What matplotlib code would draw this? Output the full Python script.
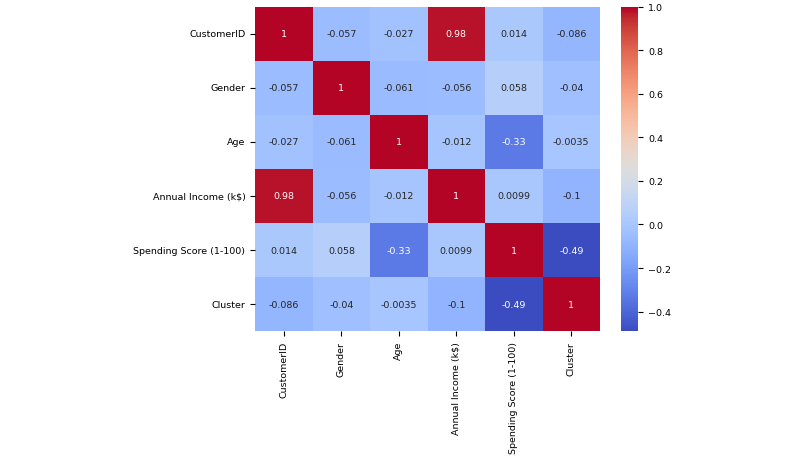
import matplotlib
matplotlib.use("Agg")
import matplotlib.pyplot as plt
import numpy as np
import pandas as pd
import seaborn as sns

labels = ["CustomerID", "Gender", "Age", "Annual Income (k$)",
          "Spending Score (1-100)", "Cluster"]

row_customer = [1, -0.057, -0.027, 0.98, 0.014, -0.086]
row_gender = [-0.057, 1, -0.061, -0.056, 0.058, -0.04]
row_age = [-0.027, -0.061, 1, -0.012, -0.33, -0.0035]
row_income = [0.98, -0.056, -0.012, 1, 0.0099, -0.1]
row_spending = [0.014, 0.058, -0.33, 0.0099, 1, -0.49]
row_cluster = [-0.086, -0.04, -0.0035, -0.1, -0.49, 1]

corr = pd.DataFrame(
    [row_customer, row_gender, row_age, row_income, row_spending, row_cluster],
    index=labels, columns=labels,
)

fs = 6.8
fig = plt.figure(figsize=(8, 4.6), dpi=100)
ax = fig.add_axes([0.319, 0.278, 0.431, 0.705])
cax = fig.add_axes([0.776, 0.278, 0.022, 0.705])

sns.heatmap(corr, annot=True, cmap="coolwarm", ax=ax, cbar_ax=cax,
            annot_kws={"fontsize": fs})

ax.tick_params(labelsize=fs)
cax.tick_params(labelsize=fs)
plt.setp(ax.get_xticklabels(), rotation=90)
plt.setp(ax.get_yticklabels(), rotation=0)

fig.savefig("out.png", dpi=100, facecolor="white")
